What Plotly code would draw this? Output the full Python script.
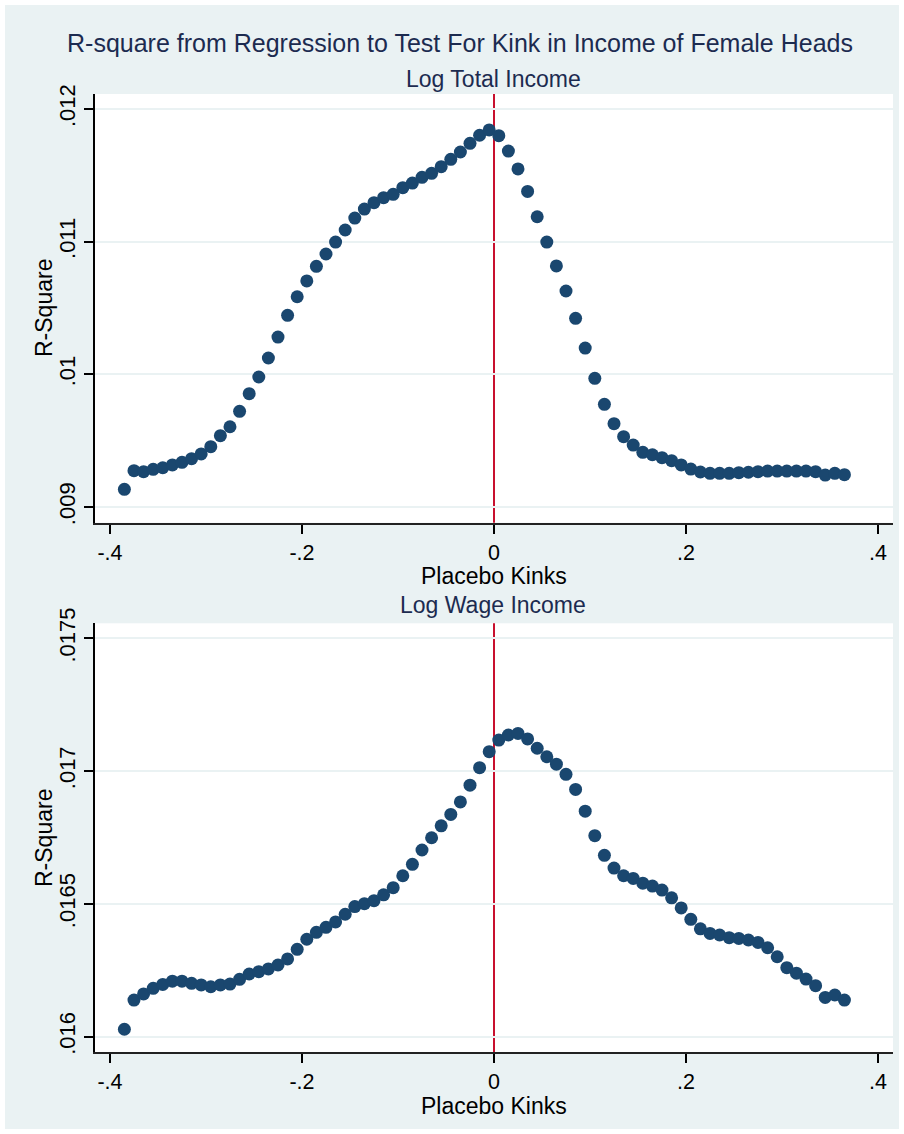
import plotly.graph_objects as go

# ---------------- data ----------------
kinks = [-0.385, -0.375, -0.365, -0.355, -0.345, -0.335, -0.325, -0.315, -0.305, -0.295,
         -0.285, -0.275, -0.265, -0.255, -0.245, -0.235, -0.225, -0.215, -0.205, -0.195,
         -0.185, -0.175, -0.165, -0.155, -0.145, -0.135, -0.125, -0.115, -0.105, -0.095,
         -0.085, -0.075, -0.065, -0.055, -0.045, -0.035, -0.025, -0.015, -0.005, 0.005,
         0.015, 0.025, 0.035, 0.045, 0.055, 0.065, 0.075, 0.085, 0.095, 0.105,
         0.115, 0.125, 0.135, 0.145, 0.155, 0.165, 0.175, 0.185, 0.195, 0.205,
         0.215, 0.225, 0.235, 0.245, 0.255, 0.265, 0.275, 0.285, 0.295, 0.305,
         0.315, 0.325, 0.335, 0.345, 0.355, 0.365]

r2_total = [.009133, .009274, .009266, .009284, .009296, .009317, .009337, .009364, .009400, .009455,
            .009538, .009605, .009721, .009854, .009980, .010123, .010281, .010445, .010585, .010704,
            .010814, .010907, .010997, .011088, .011178, .011246, .011294, .011332, .011357, .011407,
            .011442, .011485, .011515, .011565, .011621, .011676, .011741, .011802, .011842, .011799,
            .011683, .011548, .011379, .011188, .010997, .010817, .010628, .010422, .010198, .009970,
            .009774, .009628, .009530, .009467, .009412, .009394, .009372, .009349, .009317, .009286,
            .009264, .009254, .009254, .009254, .009259, .009262, .009266, .009271, .009271, .009271,
            .009271, .009271, .009266, .009241, .009254, .009244]

r2_wage = [.016028, .016138, .016161, .016182, .016197, .016209, .016209, .016201, .016195, .016188,
           .016195, .016198, .016216, .016236, .016245, .016255, .016270, .016293, .016329, .016367,
           .016393, .016412, .016432, .016461, .016490, .016501, .016512, .016534, .016561, .016606,
           .016649, .016703, .016749, .016794, .016837, .016884, .016947, .017013, .017073, .017117,
           .017136, .017142, .017121, .017086, .017054, .017026, .016988, .016931, .016849, .016757,
           .016683, .016635, .016606, .016596, .016578, .016567, .016552, .016523, .016485, .016442,
           .016406, .016389, .016383, .016373, .016370, .016364, .016355, .016335, .016301, .016260,
           .016239, .016217, .016192, .016148, .016157, .016138]

x_ticks = [-0.4, -0.2, 0, 0.2, 0.4]
x_ticklabels = ["-.4", "-.2", "0", ".2", ".4"]
y1_ticks = [0.009, 0.010, 0.011, 0.012]
y1_ticklabels = [".009", ".01", ".011", ".012"]
y2_ticks = [0.016, 0.0165, 0.017, 0.0175]
y2_ticklabels = [".016", ".0165", ".017", ".0175"]

title = "R-square from Regression to Test For Kink in Income of Female Heads"
sub1 = "Log Total Income"
sub2 = "Log Wage Income"
xtitle = "Placebo Kinks"
ytitle = "R-Square"

# ---------------- style ----------------
W, H = 904, 1134
FONT = "Liberation Sans, Arial, sans-serif"
BG = "#EAF2F3"
NAVY = "#1A476F"
TITLE_C = "#1C2B50"
RED = "#C8102E"


def px(x):
    return x / W


def py(y):
    return 1 - y / H


fig = go.Figure()
fig.add_trace(go.Scatter(x=kinks, y=r2_total, mode="markers",
                         marker=dict(size=13, color=NAVY, line=dict(width=0)),
                         xaxis="x", yaxis="y", showlegend=False))
fig.add_trace(go.Scatter(x=kinks, y=r2_wage, mode="markers",
                         marker=dict(size=13, color=NAVY, line=dict(width=0)),
                         xaxis="x2", yaxis="y2", showlegend=False))

xcommon = dict(range=[-0.4156, 0.4156], tickmode="array", tickvals=x_ticks, ticktext=x_ticklabels,
               ticks="outside", ticklen=9, tickwidth=1.5, tickcolor="black",
               showline=True, linecolor="#222222", linewidth=2,
               showgrid=False, zeroline=False,
               tickfont=dict(family=FONT, size=21.5, color="black"),
               domain=[px(95), px(893)], fixedrange=True)
ycommon = dict(tickmode="array", tickangle=-90,
               ticks="outside", ticklen=9, tickwidth=1.5, tickcolor="black",
               showline=True, linecolor="black", linewidth=1.5,
               showgrid=True, gridcolor=BG, gridwidth=2, zeroline=False,
               tickfont=dict(family=FONT, size=22, color="black"), fixedrange=True)

fig.update_layout(
    width=W, height=H, autosize=False, template="none",
    margin=dict(l=0, r=0, t=0, b=0, pad=0),
    paper_bgcolor=BG, plot_bgcolor="white",
    xaxis=dict(xcommon, anchor="y"),
    xaxis2=dict(xcommon, anchor="y2"),
    yaxis=dict(ycommon, anchor="x", range=[0.0088817, 0.0121131],
               tickvals=y1_ticks, ticktext=y1_ticklabels,
               domain=[py(522.7), py(94)]),
    yaxis2=dict(ycommon, anchor="x2", range=[0.0159424, 0.0175565],
                tickvals=y2_ticks, ticktext=y2_ticklabels,
                domain=[py(1052), py(623.3)]),
    showlegend=False,
)

# red reference lines at zero
for xr, yr in (("x", "y domain"), ("x2", "y2 domain")):
    fig.add_shape(type="line", xref=xr, yref=yr, x0=0, x1=0, y0=0, y1=1,
                  line=dict(color=RED, width=2), layer="below")

# white outer border
fig.add_shape(type="rect", xref="paper", yref="paper", x0=0, x1=1, y0=0, y1=1,
              line=dict(color="white", width=10), fillcolor="rgba(0,0,0,0)", layer="above")

ann = []
ann.append(dict(text=title, x=px(460), y=py(43), font=dict(family=FONT, size=25, color=TITLE_C)))
ann.append(dict(text=sub1, x=px(493), y=py(79), font=dict(family=FONT, size=23, color=TITLE_C)))
ann.append(dict(text=sub2, x=px(493), y=py(605), font=dict(family=FONT, size=23, color=TITLE_C)))
ann.append(dict(text=xtitle, x=px(494), y=py(576), font=dict(family=FONT, size=23, color="black")))
ann.append(dict(text=xtitle, x=px(494), y=py(1105.5), font=dict(family=FONT, size=23, color="black")))
ann.append(dict(text=ytitle, x=px(44), y=py(308), textangle=-90, font=dict(family=FONT, size=23, color="black")))
ann.append(dict(text=ytitle, x=px(44), y=py(838), textangle=-90, font=dict(family=FONT, size=23, color="black")))
for a in ann:
    a.update(xref="paper", yref="paper", xanchor="center", yanchor="middle", showarrow=False)
fig.update_layout(annotations=ann)

fig.write_html("out.html")
